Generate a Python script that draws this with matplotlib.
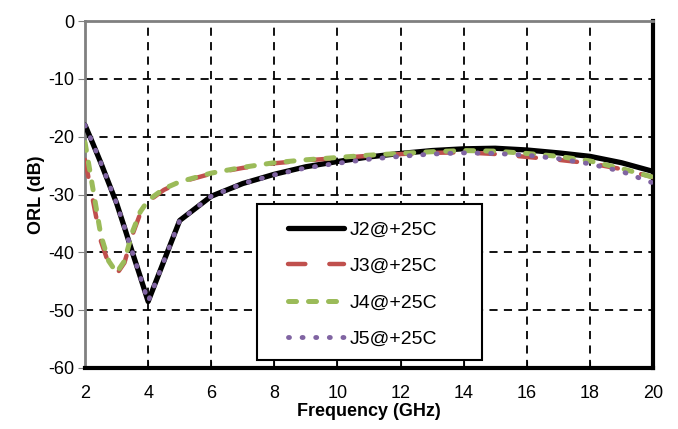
import matplotlib
matplotlib.use("Agg")
import matplotlib.pyplot as plt
from matplotlib.patches import Rectangle

# frequency points (GHz)
freq = [2, 2.25, 2.5, 2.75, 3, 3.25, 3.5, 3.75, 4, 4.5, 5, 6, 7, 8, 9, 10,
        11, 12, 13, 14, 15, 16, 17, 18, 19, 20]

# ORL (dB)
j2 = [-18, -21.2, -24.5, -28, -31.5, -35.7, -40, -44.2, -48.5, -41.5, -34.5,
      -30.3, -28.1, -26.5, -25.2, -24.3, -23.5, -22.9, -22.4, -22.1, -22.0,
      -22.3, -22.8, -23.4, -24.5, -26.0]
j3 = [-24, -31, -38, -42, -43.8, -41.8, -37, -33.3, -31.2, -29.2, -27.9,
      -26.4, -25.4, -24.6, -24.1, -23.7, -23.3, -23.0, -22.8, -22.7, -23.0,
      -23.5, -24.0, -24.6, -25.6, -27.0]
j4 = [-21, -29, -37, -41.5, -43.5, -41.5, -36.5, -33, -31, -29, -27.8,
      -26.3, -25.3, -24.5, -24.0, -23.6, -23.2, -22.9, -22.6, -22.4, -22.5,
      -22.9, -23.4, -24.2, -25.5, -27.0]
j5 = [-18, -21.2, -24.5, -28, -31.5, -35.7, -40, -44.2, -48.5, -41.5, -34.5,
      -30.3, -28.1, -26.6, -25.4, -24.6, -23.9, -23.4, -23.0, -22.8, -22.9,
      -23.2, -23.8, -24.7, -26.0, -28.0]

labels = ["J2@+25C", "J3@+25C", "J4@+25C", "J5@+25C"]
xticks = [2, 4, 6, 8, 10, 12, 14, 16, 18, 20]
yticks = [0, -10, -20, -30, -40, -50, -60]

plt.rcParams['font.family'] = ['Liberation Sans', 'DejaVu Sans']
plt.rcParams['axes.unicode_minus'] = False

fig = plt.figure(figsize=(6.78, 4.29), dpi=100)
ax = fig.add_axes([0.1254, 0.1422, 0.9631 - 0.1254, 0.951 - 0.1422])

ax.plot(freq, j2, color='black', lw=3.8, solid_capstyle='round', label=labels[0], zorder=3)
ax.plot(freq, j3, color='#c0504d', lw=3.2, dash_capstyle='round',
        dashes=(3.9, 5.4), label=labels[1], zorder=4)
ax.plot(freq, j4, color='#9bbb59', lw=3.6, dash_capstyle='round',
        dashes=(1.6, 2.4), label=labels[2], zorder=5)
ax.plot(freq, j5, color='#8064a2', lw=3.5, dash_capstyle='round',
        dashes=(0.2, 2.6), label=labels[3], zorder=6)

ax.set_xlim(2, 20)
ax.set_ylim(-60, 0)
ax.set_xticks(xticks)
ax.set_yticks(yticks)
ax.tick_params(axis='x', direction='in', length=5, color='black', labelsize=13, pad=12)
ax.tick_params(axis='y', direction='out', length=5, color='#808080', labelsize=13, pad=3)

ax.grid(True, color='black', lw=1.3, linestyle=(0, (4.5, 3.5)), zorder=1)

for s in ['left', 'top']:
    ax.spines[s].set_color('#808080')
    ax.spines[s].set_linewidth(2)
for s in ['right', 'bottom']:
    ax.spines[s].set_color('black')
    ax.spines[s].set_linewidth(3)

ax.set_xlabel("Frequency (GHz)", fontsize=13, fontweight='bold', labelpad=1)
ax.set_ylabel("ORL (dB)", fontsize=13, fontweight='bold', labelpad=2)

# legend box drawn separately so the padding matches
box = Rectangle((0.303, 0.023), 0.396, 0.45, transform=ax.transAxes,
                facecolor='white', edgecolor='black', lw=1.5, zorder=9)
ax.add_patch(box)
leg = ax.legend(loc='upper left', bbox_to_anchor=(0.357, 0.422), frameon=False,
                fontsize=14, handlelength=2.9, handletextpad=0.3,
                labelspacing=0.95, borderpad=0, borderaxespad=0)
leg.set_zorder(10)

fig.savefig("out.png", dpi=100)
